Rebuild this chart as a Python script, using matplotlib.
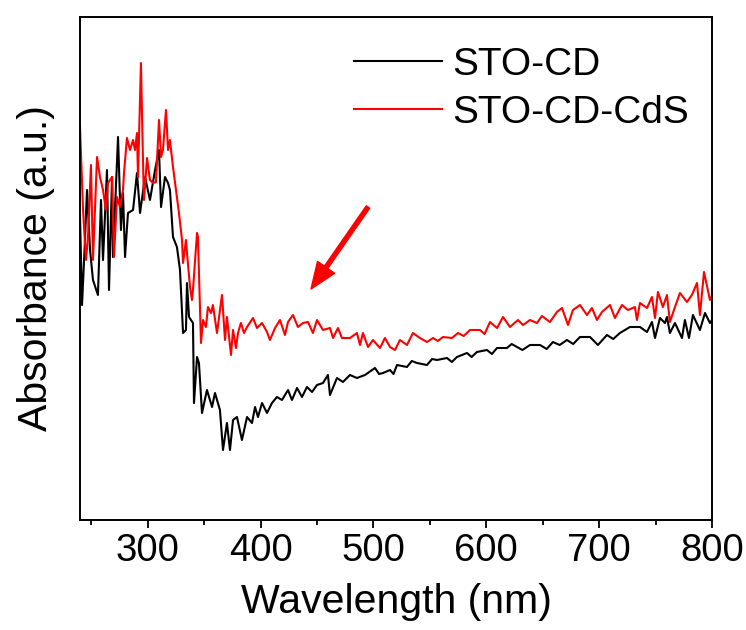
import matplotlib
matplotlib.use('Agg')
import matplotlib.pyplot as plt
from matplotlib.ticker import MultipleLocator, NullLocator

plt.rcParams['font.family'] = ['Liberation Sans', 'DejaVu Sans']

# STO-CD
wl_cd = [240, 241.8, 244.4, 246.2, 248.9, 251.5, 255.9, 258.6, 260.4, 263.9,
         265.7, 268.4, 269.2, 273.7, 276.3, 278.1, 279.9, 282.5, 287.0, 290.5,
         293.2, 297.6, 302.0, 306.5, 310.0, 311.8, 315.3, 318.0, 319.7, 322.4,
         325.9, 328.6, 331.3, 333.9, 334.8, 336.6, 340.1, 341.0, 343.7, 345.4,
         348.1, 352.5, 357.0, 359.6, 364.0, 366.7, 370.2, 372.9, 375.6, 379.1,
         383.5, 388.0, 392.4, 395.1, 397.7, 401.3, 405.7, 410.1, 414.5, 419.0,
         424.3, 427.8, 432.3, 436.7, 441.1, 445.6, 450.0, 455.3, 459.7, 461.5,
         467.7, 473.0, 479.2, 485.4, 492.5, 501.4, 505.0, 508.5, 514.7, 517.8,
         520.9, 529.7, 534.0, 538.6, 547.4, 552.0, 556.3, 565.2, 569.5, 574.0,
         582.9, 587.0, 591.7, 600.6, 605.0, 609.5, 618.3, 622.5, 627.2, 632.0,
         638.7, 647.6, 653.5, 659.1, 665.0, 671.5, 677.0, 683.0, 691.9, 698.9,
         706.9, 712.5, 718.4, 727.3, 736.2, 742.4, 746.8, 749.5, 753.9, 758.3,
         760.1, 762.7, 767.2, 773.4, 776.0, 779.6, 783.1, 789.3, 793.8, 798.2,
         800]
ab_cd = [0.61, 0.43, 0.56, 0.66, 0.54, 0.48, 0.45, 0.64, 0.52, 0.70,
         0.46, 0.686, 0.526, 0.766, 0.58, 0.654, 0.526, 0.614, 0.62, 0.694,
         0.614, 0.686, 0.64, 0.70, 0.74, 0.626, 0.686, 0.674, 0.66, 0.566,
         0.546, 0.50, 0.374, 0.38, 0.474, 0.406, 0.394, 0.234, 0.326, 0.314,
         0.214, 0.26, 0.226, 0.254, 0.22, 0.14, 0.194, 0.14, 0.20, 0.206,
         0.16, 0.206, 0.194, 0.226, 0.206, 0.234, 0.214, 0.234, 0.246, 0.24,
         0.26, 0.24, 0.264, 0.246, 0.266, 0.256, 0.27, 0.274, 0.29, 0.25,
         0.284, 0.276, 0.29, 0.284, 0.29, 0.304, 0.292, 0.294, 0.30, 0.292,
         0.31, 0.306, 0.318, 0.314, 0.31, 0.322, 0.32, 0.324, 0.316, 0.326,
         0.334, 0.326, 0.336, 0.34, 0.332, 0.344, 0.344, 0.352, 0.346, 0.34,
         0.35, 0.35, 0.342, 0.356, 0.35, 0.36, 0.352, 0.366, 0.366, 0.35,
         0.37, 0.362, 0.374, 0.386, 0.386, 0.376, 0.396, 0.364, 0.404, 0.394,
         0.406, 0.374, 0.394, 0.364, 0.40, 0.364, 0.41, 0.38, 0.414, 0.394,
         0.40]

# STO-CD-CdS
wl_cds = [240, 242.7, 245.3, 247.1, 249.7, 251.5, 255.1, 257.7, 260.4, 263.0,
          264.8, 268.4, 270.1, 272.8, 275.4, 278.1, 279.0, 281.6, 284.3, 287.0,
          288.7, 290.5, 291.4, 294.0, 295.8, 296.7, 299.4, 302.0, 304.7, 307.3,
          310.0, 311.8, 313.5, 316.2, 318.0, 319.7, 322.4, 325.9, 327.7, 330.4,
          331.3, 333.9, 334.8, 337.5, 339.2, 340.1, 343.7, 344.5, 347.2, 349.0,
          351.6, 353.4, 356.1, 357.8, 361.4, 365.8, 368.5, 370.2, 373.8, 375.6,
          378.2, 380.0, 382.6, 385.3, 388.0, 393.3, 396.8, 401.3, 405.7, 408.3,
          412.8, 417.2, 421.6, 424.3, 428.7, 433.1, 437.6, 442.0, 446.4, 450.0,
          455.3, 461.5, 464.2, 468.6, 472.1, 479.2, 485.4, 488.1, 490.7, 495.2,
          499.6, 505.8, 510.2, 514.7, 519.1, 523.5, 529.7, 535.0, 541.2, 547.4,
          552.8, 557.0, 561.6, 569.6, 574.9, 580.0, 585.5, 594.4, 598.5, 603.3,
          609.5, 614.8, 621.0, 628.1, 632.5, 638.7, 644.9, 649.3, 656.4, 662.6,
          667.1, 672.4, 676.8, 683.0, 689.2, 693.6, 698.1, 702.5, 709.6, 714.0,
          720.2, 725.5, 731.7, 733.5, 736.2, 742.4, 746.8, 749.5, 752.1, 756.5,
          760.1, 762.7, 767.2, 771.6, 777.8, 782.2, 786.7, 789.3, 792.9, 798.2,
          800]
ab_cds = [0.786, 0.62, 0.52, 0.566, 0.71, 0.52, 0.726, 0.686, 0.66, 0.62,
          0.674, 0.686, 0.526, 0.646, 0.626, 0.66, 0.694, 0.764, 0.74, 0.76,
          0.74, 0.774, 0.686, 0.914, 0.72, 0.64, 0.724, 0.68, 0.674, 0.676,
          0.80, 0.726, 0.74, 0.82, 0.74, 0.76, 0.706, 0.646, 0.614, 0.56,
          0.514, 0.56, 0.534, 0.466, 0.44, 0.46, 0.574, 0.566, 0.354, 0.40,
          0.386, 0.426, 0.414, 0.43, 0.374, 0.45, 0.36, 0.406, 0.33, 0.38,
          0.344, 0.374, 0.394, 0.374, 0.386, 0.404, 0.384, 0.394, 0.376, 0.36,
          0.384, 0.40, 0.37, 0.396, 0.41, 0.386, 0.394, 0.396, 0.374, 0.40,
          0.38, 0.384, 0.364, 0.384, 0.364, 0.364, 0.374, 0.35, 0.374, 0.346,
          0.36, 0.344, 0.364, 0.346, 0.34, 0.36, 0.35, 0.374, 0.364, 0.356,
          0.364, 0.358, 0.366, 0.364, 0.374, 0.368, 0.38, 0.38, 0.372, 0.396,
          0.384, 0.406, 0.386, 0.40, 0.39, 0.40, 0.394, 0.408, 0.396, 0.416,
          0.424, 0.39, 0.42, 0.43, 0.41, 0.424, 0.40, 0.416, 0.43, 0.404,
          0.43, 0.42, 0.426, 0.40, 0.434, 0.424, 0.446, 0.404, 0.456, 0.426,
          0.45, 0.396, 0.426, 0.454, 0.436, 0.45, 0.474, 0.41, 0.496, 0.44,
          0.448]

fig = plt.figure(figsize=(7.46, 6.3), dpi=100)
ax = fig.add_axes([80 / 746, 110 / 630, 632 / 746, 503 / 630])

ax.plot(wl_cd, ab_cd, color='black', lw=1.5, label='STO-CD')
ax.plot(wl_cds, ab_cds, color='red', lw=1.5, label='STO-CD-CdS')

ax.annotate('', xy=(444.7, 0.462), xytext=(495.2, 0.626),
            arrowprops=dict(color='red', width=3, headwidth=15, headlength=19))

ax.set_xlim(240, 800)
ax.set_ylim(0, 1.006)
ax.xaxis.set_major_locator(MultipleLocator(100))
ax.xaxis.set_minor_locator(MultipleLocator(50))
ax.yaxis.set_major_locator(NullLocator())
ax.tick_params(axis='x', which='major', direction='out', length=6, width=1.3,
               labelsize=27.5, top=False)
ax.tick_params(axis='x', which='minor', direction='out', length=3.5, width=1.3,
               top=False)
for s in ax.spines.values():
    s.set_linewidth(1.4)

ax.set_xlabel('Wavelength (nm)', fontsize=29.5, labelpad=10)
ax.set_ylabel('Absorbance (a.u.)', fontsize=29.5, labelpad=18)

ax.legend(loc='upper right', frameon=False, fontsize=28, handlelength=2.26,
          handletextpad=0.26, labelspacing=0.3,
          bbox_to_anchor=(1 + 12 / 632, 1 + 5 / 503))

fig.savefig('out.png', dpi=100)
